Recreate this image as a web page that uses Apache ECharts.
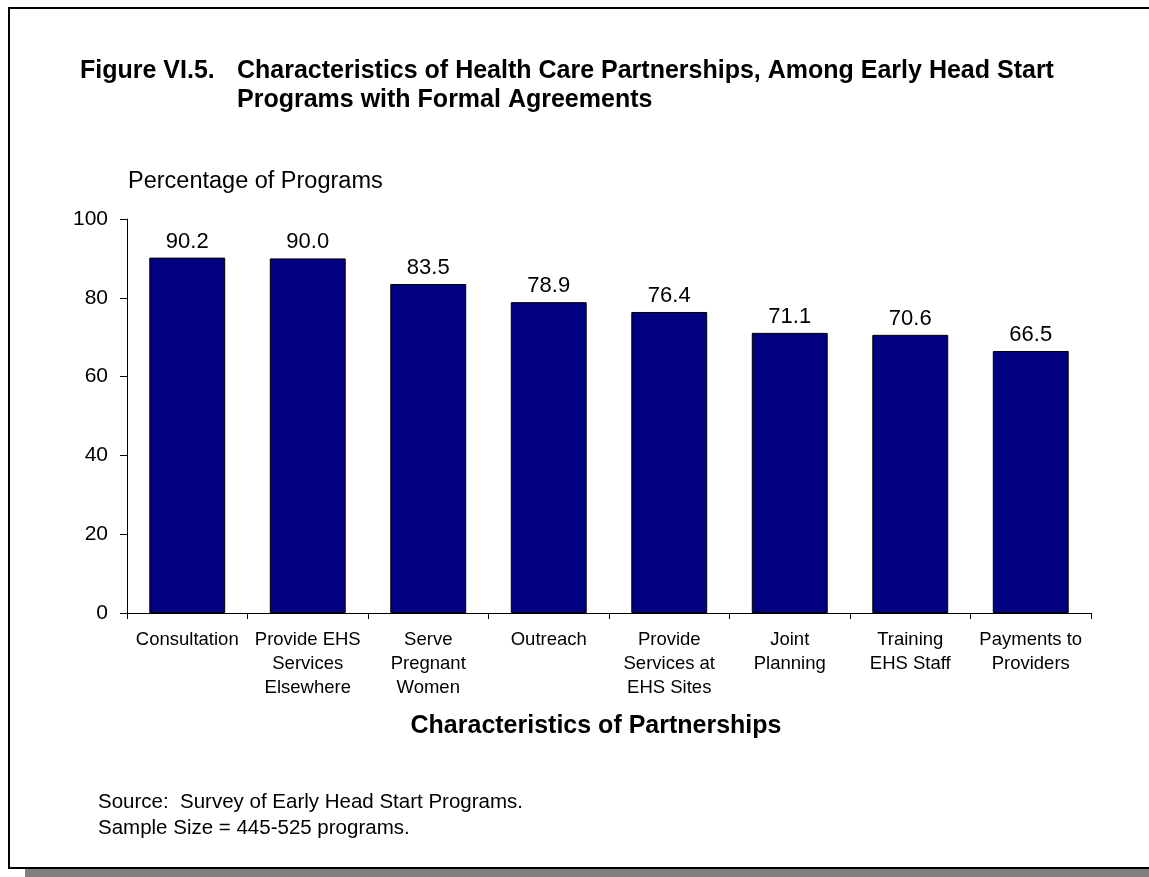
<!DOCTYPE html>
<html>
<head>
<meta charset="utf-8">
<script src="https://cdn.jsdelivr.net/npm/echarts@6/dist/echarts.min.js"></script>
<style>
  html, body { margin: 0; padding: 0; background: #fff; }
  #chart { width: 1149px; height: 877px; }
</style>
</head>
<body>
<div id="chart"></div>
<script>
// data
var categories = ['Consultation', 'Provide EHS\nServices\nElsewhere', 'Serve\nPregnant\nWomen', 'Outreach',
    'Provide\nServices at\nEHS Sites', 'Joint\nPlanning', 'Training\nEHS Staff', 'Payments to\nProviders'];
var values = [90.2, 90.0, 83.5, 78.9, 76.4, 71.1, 70.6, 66.5];
var yTicks = [0, 20, 40, 60, 80, 100];

var FONT = '"Liberation Sans", Arial, sans-serif';

var myChart = echarts.init(document.getElementById('chart'));
var option = {
    backgroundColor: '#fff',
    animation: false,
    grid: {left: 127, right: 58, top: 219, bottom: 264},
    xAxis: {
        type: 'category',
        data: categories,
        axisLine: {lineStyle: {color: '#000', width: 1}},
        axisTick: {show: true, length: 6, lineStyle: {color: '#000'}},
        axisLabel: {
            color: '#000', fontFamily: FONT, fontSize: 18.5, lineHeight: 24,
            margin: 15, interval: 0, align: 'center'
        }
    },
    yAxis: {
        type: 'value',
        min: yTicks[0],
        max: yTicks[yTicks.length - 1],
        interval: 20,
        splitLine: {show: false},
        axisLine: {show: true, lineStyle: {color: '#000', width: 1}},
        axisTick: {show: true, length: 7, lineStyle: {color: '#000'}},
        axisLabel: {color: '#000', fontFamily: FONT, fontSize: 21, margin: 19}
    },
    series: [{
        type: 'bar',
        data: values,
        barWidth: '63%',
        itemStyle: {color: '#000080', borderColor: '#000', borderWidth: 1},
        label: {
            show: true, position: 'top', distance: 5,
            color: '#000', fontFamily: FONT, fontSize: 22,
            formatter: function (p) { return p.value.toFixed(1); }
        }
    }],
    graphic: [
        // shadow + frame
        {type: 'rect', shape: {x: 25, y: 869, width: 1140, height: 8}, style: {fill: '#808080'}, z: 0},
        {type: 'rect', shape: {x: 9, y: 8, width: 1160, height: 860}, style: {fill: 'none', stroke: '#000', lineWidth: 2}, z: 1},
        // title
        {type: 'text', x: 80, y: 71, style: {text: 'Figure VI.5.', font: 'bold 25px ' + FONT, fill: '#000', verticalAlign: 'middle'}},
        {type: 'text', x: 237, y: 71, style: {text: 'Characteristics of Health Care Partnerships, Among Early Head Start', font: 'bold 25px ' + FONT, fill: '#000', verticalAlign: 'middle'}},
        {type: 'text', x: 237, y: 100, style: {text: 'Programs with Formal Agreements', font: 'bold 25px ' + FONT, fill: '#000', verticalAlign: 'middle'}},
        // axis names
        {type: 'text', x: 128, y: 182, style: {text: 'Percentage of Programs', font: '23.5px ' + FONT, fill: '#000', verticalAlign: 'middle'}},
        {type: 'text', x: 596, y: 726, style: {text: 'Characteristics of Partnerships', font: 'bold 25px ' + FONT, fill: '#000', align: 'center', verticalAlign: 'middle'}},
        // notes
        {type: 'text', x: 98, y: 802, style: {text: 'Source:  Survey of Early Head Start Programs.', font: '20.5px ' + FONT, fill: '#000', verticalAlign: 'middle'}},
        {type: 'text', x: 98, y: 828, style: {text: 'Sample Size = 445-525 programs.', font: '20.5px ' + FONT, fill: '#000', verticalAlign: 'middle'}}
    ]
};
myChart.setOption(option);
</script>
</body>
</html>
